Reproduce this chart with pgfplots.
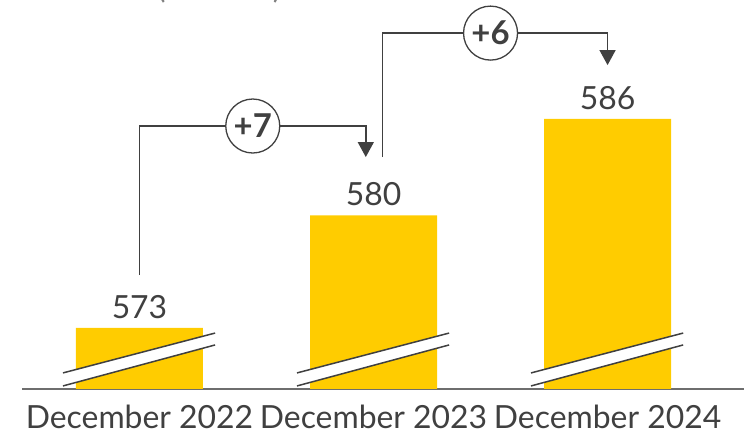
\documentclass[border=0pt]{standalone}
\usepackage{fontspec}
\setmainfont{Lato}
\usepackage{pgfplots}
\pgfplotsset{compat=1.18}
\usetikzlibrary{arrows.meta}
\definecolor{baryellow}{HTML}{FFCC00}
\definecolor{txt}{HTML}{404040}
\definecolor{base}{HTML}{6E6E6E}
\begin{document}
\begin{tikzpicture}
\begin{axis}[
  at={(22bp,48bp)}, anchor=south west,
  scale only axis, width=722bp, height=389bp,
  xmin=-0.502, xmax=2.583, ymin=569.2, ymax=593.4,
  axis y line=none, axis x line*=bottom,
  x axis line style={base, line width=1.6bp, -},
  xtick={0,1,2}, xticklabels={December 2022,December 2023,December 2024},
  major tick length=0pt,
  tick label style={font=\fontsize{32}{34}\selectfont, text=txt},
  xticklabel style={yshift=-13bp},
  clip=false,
]
\addplot[ybar, bar width=127bp, fill=baryellow, draw=none,
  nodes near coords, point meta=explicit symbolic,
  every node near coord/.style={font=\fontsize{32}{34}\selectfont, text=txt, anchor=south, yshift=6bp}]
  table[meta=lbl] {
x y lbl
0 573 573
1 580 580
2 586 586
};
% break marks
\pgfplotsinvokeforeach{0,1,2}{
  \fill[white] (axis cs:#1-0.327,570.2) -- (axis cs:#1+0.323,572.68) -- (axis cs:#1+0.323,571.94) -- (axis cs:#1-0.327,569.39) -- cycle;
  \draw[txt, line width=1.5bp] (axis cs:#1-0.327,570.2) -- (axis cs:#1+0.323,572.68);
  \draw[txt, line width=1.5bp] (axis cs:#1-0.327,569.39) -- (axis cs:#1+0.323,571.94);
}
% arrows
\draw[txt, line width=1.4bp, -{Triangle[length=15bp,width=16bp]}]
  (axis cs:0,576.29) |- (axis cs:0.967,585.56) -- (axis cs:0.967,583.63);
\draw[txt, line width=1.4bp, -{Triangle[length=15bp,width=16bp]}]
  (axis cs:1.038,583.63) |- (axis cs:2,591.34) -- (axis cs:2,589.35);
\node[circle, draw=txt, line width=1.3bp, fill=white, minimum size=54bp, inner sep=0pt,
  font=\fontsize{33}{34}\selectfont\bfseries, text=txt] at (axis cs:0.484,585.56) {+7};
\node[circle, draw=txt, line width=1.3bp, fill=white, minimum size=54bp, inner sep=0pt,
  font=\fontsize{33}{34}\selectfont\bfseries, text=txt] at (axis cs:1.5,591.34) {+6};
\end{axis}
\node[anchor=base west, inner sep=0pt, text=gray, font=\fontsize{32}{34}\selectfont] at (157bp,438.5bp) {(number)};
\pgfresetboundingbox
\useasboundingbox (0,0) rectangle (744bp,437bp);
\end{tikzpicture}
\end{document}
